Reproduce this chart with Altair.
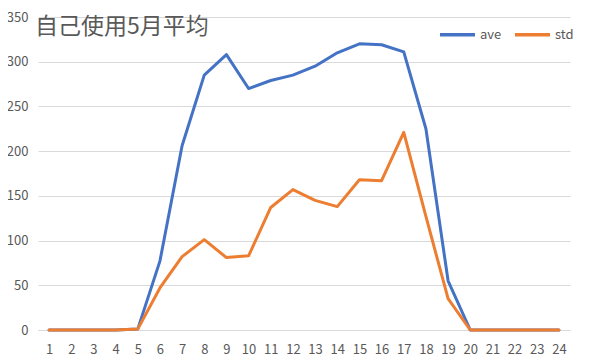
import altair as alt
import pandas as pd

title_text = ["自己使用5月平均"]
hours = list(range(1, 25))
ave = [0, 0, 0, 0, 1, 77, 206, 285, 308, 270, 279, 285, 295, 310, 320, 319, 311, 225, 55, 0, 0, 0, 0, 0]
std = [0, 0, 0, 0, 1, 47, 82, 101, 81, 83, 137, 157, 145, 138, 168, 167, 221, 127, 35, 0, 0, 0, 0, 0]
series = ["ave", "std"]
colors = ["#4472C4", "#ED7D31"]
y_ticks = [0, 50, 100, 150, 200, 250, 300, 350]

rows = []
for h, a, s in zip(hours, ave, std):
    rows.append({"hour": h, "series": "ave", "value": a})
    rows.append({"hour": h, "series": "std", "value": s})
df = pd.DataFrame(rows)

font = "Noto Sans CJK SC"
gray = "#595959"

lines = alt.Chart(df).mark_line(strokeWidth=3, strokeCap="round", strokeJoin="round").encode(
    x=alt.X("hour:O", title=None,
            axis=alt.Axis(labelAngle=0, ticks=False, domain=True, domainColor="#D9D9D9",
                          labelFontSize=13, labelColor=gray, labelFont=font, labelPadding=13, grid=False)),
    y=alt.Y("value:Q", title=None,
            scale=alt.Scale(domain=[0, 350], nice=False),
            axis=alt.Axis(values=y_ticks, ticks=False, domain=False, gridColor="#D9D9D9",
                          labelFontSize=13, labelColor=gray, labelFont=font, labelPadding=10)),
    color=alt.Color("series:N", scale=alt.Scale(domain=series, range=colors),
                    legend=alt.Legend(title=None, orient="none", legendX=400, legendY=-2,
                                      direction="horizontal", symbolType="stroke",
                                      symbolStrokeWidth=3.5, symbolSize=1225,
                                      labelFontSize=13, labelColor=gray, labelFont=font,
                                      columnPadding=6, labelOffset=3)),
)

title = alt.Chart(pd.DataFrame({"t": title_text})).mark_text(
    align="left", baseline="alphabetic", fontSize=23, font=font, color=gray
).encode(x=alt.value(-3), y=alt.value(17), text="t:N")

chart = alt.layer(lines, title).properties(
    width=532, height=313,
    autosize=alt.AutoSizeParams(type="none"),
    padding={"left": 30, "top": 9, "right": 14, "bottom": 27},
).configure_view(stroke=None)

chart.save("out.html", embed_options={"renderer": "svg", "actions": False})
